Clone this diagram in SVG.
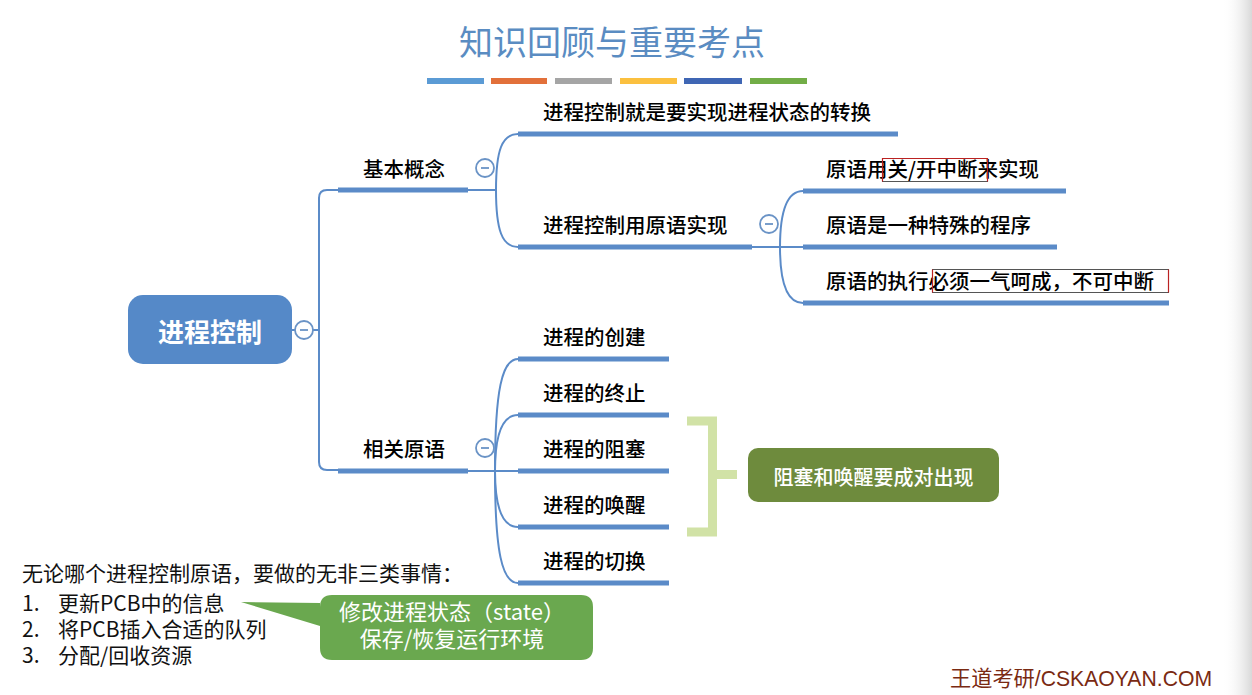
<svg xmlns="http://www.w3.org/2000/svg" width="1252" height="695" viewBox="0 0 1252 695">
<style>
.t{font-family:"Noto Sans CJK SC","Noto Sans",sans-serif;fill:#000;font-size:20.5px;font-weight:500}
.bar{stroke:#5b8bc8;stroke-width:5;fill:none}
.ln{stroke:#5b8bc8;stroke-width:2;fill:none}
.cc{fill:#fff;stroke:#6a93c6;stroke-width:1.8}
.cm{stroke:#6a93c6;stroke-width:1.8}
.bt{font-family:"Noto Sans CJK SC","Noto Sans",sans-serif;fill:#111;font-size:21px}
.ct{font-family:"Noto Sans CJK SC","Noto Sans",sans-serif;fill:#fff;font-size:22px}
</style>
<defs>
<linearGradient id="edge" x1="0" x2="1" y1="0" y2="0">
<stop offset="0" stop-color="#fff" stop-opacity="0"/>
<stop offset="1" stop-color="#d8d8d8"/>
</linearGradient>
</defs>
<rect width="1252" height="695" fill="#fff"/>
<rect x="1222" y="0" width="30" height="695" fill="url(#edge)"/>

<g id="title">
<text x="612" y="55" text-anchor="middle" font-family="Noto Sans CJK SC, sans-serif" font-size="34" fill="#5a8cc2">知识回顾与重要考点</text>
<rect x="427" y="78" width="57" height="6" fill="#5b9bd5"/>
<rect x="491" y="78" width="56" height="6" fill="#e2703a"/>
<rect x="555" y="78" width="57" height="6" fill="#a5a5a5"/>
<rect x="620" y="78" width="57" height="6" fill="#fbc03f"/>
<rect x="684" y="78" width="58" height="6" fill="#3f66b4"/>
<rect x="750" y="78" width="57" height="6" fill="#72ad47"/>
</g>

<g id="connectors">
<line class="ln" x1="292" y1="330" x2="319" y2="330"/>
<path class="ln" d="M338,190 H327 Q319,190 319,198 V462 Q319,470 327,470 H338"/>
<line class="ln" x1="468" y1="190" x2="496" y2="190"/>
<path class="ln" d="M496,190 C496,150 502,134 518,134"/>
<path class="ln" d="M496,190 C496,230 502,247 518,247"/>
<line class="ln" x1="752" y1="247" x2="780" y2="247"/>
<path class="ln" d="M780,247 C780,210 787,191 803,191"/>
<line class="ln" x1="780" y1="247" x2="803" y2="247"/>
<path class="ln" d="M780,247 C780,284 787,303 803,303"/>
<line class="ln" x1="468" y1="471" x2="518" y2="471"/>
<path class="ln" d="M495,471 C495,390 502,359 518,359"/>
<path class="ln" d="M495,471 C495,435 502,415 518,415"/>
<path class="ln" d="M495,471 C495,507 502,527 518,527"/>
<path class="ln" d="M495,471 C495,552 502,583 518,583"/>
</g>

<g id="root">
<rect x="128" y="295" width="164" height="69" rx="15" fill="#5589c8"/>
<text x="210" y="342" text-anchor="middle" font-family="Noto Sans CJK SC, sans-serif" font-size="26" font-weight="bold" fill="#fff">进程控制</text>
<circle class="cc" cx="304" cy="330" r="9"/>
<line class="cm" x1="300" y1="330" x2="308" y2="330"/>
</g>

<g id="n-basic">
<line class="bar" x1="338" y1="190" x2="468" y2="190"/>
<text class="t" x="363" y="177">基本概念</text>
<circle class="cc" cx="485" cy="168" r="9"/>
<line class="cm" x1="481" y1="168" x2="489" y2="168"/>
</g>

<g id="n-basic-1">
<line class="bar" x1="518" y1="134" x2="898" y2="134"/>
<text class="t" x="543" y="120">进程控制就是要实现进程状态的转换</text>
</g>

<g id="n-basic-2">
<line class="bar" x1="518" y1="247" x2="752" y2="247"/>
<text class="t" x="543" y="233">进程控制用原语实现</text>
<circle class="cc" cx="769" cy="224" r="9"/>
<line class="cm" x1="765" y1="224" x2="773" y2="224"/>
</g>

<g id="n-prim-1">
<line class="bar" x1="803" y1="191" x2="1066" y2="191"/>
<text class="t" x="826" y="177">原语用关/开中断来实现</text>
<rect x="882.5" y="158.5" width="105" height="23" fill="none" stroke="#555" stroke-width="1"/>
<path d="M882.5,181.5 V158.5 H987.5 V181.5" fill="none" stroke="#b22" stroke-width="1.2"/>
</g>

<g id="n-prim-2">
<line class="bar" x1="803" y1="247" x2="1057" y2="247"/>
<text class="t" x="826" y="233">原语是一种特殊的程序</text>
</g>

<g id="n-prim-3">
<line class="bar" x1="803" y1="303" x2="1169" y2="303"/>
<text class="t" x="826" y="289">原语的执行必须一气呵成，不可中断</text>
<rect x="932.5" y="269.5" width="236" height="23" fill="none" stroke="#555" stroke-width="1"/>
<line x1="932.5" y1="269.5" x2="932.5" y2="292.5" stroke="#b22" stroke-width="1.2"/>
<line x1="1168.5" y1="269.5" x2="1168.5" y2="292.5" stroke="#b22" stroke-width="1.2"/>
</g>

<g id="n-related">
<line class="bar" x1="338" y1="471" x2="468" y2="471"/>
<text class="t" x="363" y="457">相关原语</text>
<circle class="cc" cx="485" cy="448" r="9"/>
<line class="cm" x1="481" y1="448" x2="489" y2="448"/>
</g>

<g id="n-create">
<line class="bar" x1="518" y1="359" x2="669" y2="359"/>
<text class="t" x="543" y="345">进程的创建</text>
</g>
<g id="n-term">
<line class="bar" x1="518" y1="415" x2="669" y2="415"/>
<text class="t" x="543" y="401">进程的终止</text>
</g>
<g id="n-block">
<line class="bar" x1="518" y1="471" x2="669" y2="471"/>
<text class="t" x="543" y="457">进程的阻塞</text>
</g>
<g id="n-wake">
<line class="bar" x1="518" y1="527" x2="669" y2="527"/>
<text class="t" x="543" y="513">进程的唤醒</text>
</g>
<g id="n-switch">
<line class="bar" x1="518" y1="583" x2="669" y2="583"/>
<text class="t" x="543" y="569">进程的切换</text>
</g>

<g id="bracket">
<path d="M687,421 H712.5 V532 H687 M712.5,474.5 H737" fill="none" stroke="#d1e2a6" stroke-width="9"/>
</g>

<g id="n-pair">
<rect x="748" y="448" width="251" height="54" rx="10" fill="#6e8b3d"/>
<text x="873.5" y="485" text-anchor="middle" font-family="Noto Sans CJK SC, sans-serif" font-size="20" font-weight="500" fill="#fff">阻塞和唤醒要成对出现</text>
</g>

<g id="notes">
<text class="bt" x="22" y="581">无论哪个进程控制原语，要做的无非三类事情：</text>
<text class="bt" x="22" y="611">1.<tspan x="58">更新PCB中的信息</tspan></text>
<text class="bt" x="22" y="637">2.<tspan x="58">将PCB插入合适的队列</tspan></text>
<text class="bt" x="22" y="663">3.<tspan x="58">分配/回收资源</tspan></text>
</g>

<g id="callout">
<path d="M332,595 H581 Q593,595 593,607 V648 Q593,660 581,660 H332 Q320,660 320,648 V626 L241,602 L320,603 V607 Q320,595 332,595 Z" fill="#6aa84f"/>
<text class="ct" x="452" y="620" text-anchor="middle">修改进程状态（state）</text>
<text class="ct" x="452" y="647" text-anchor="middle">保存/恢复运行环境</text>
</g>

<g id="footer">
<text x="950" y="686" font-family="Liberation Sans, Noto Sans CJK SC, sans-serif" font-size="21.2" fill="#7a2a12">王道考研/CSKAOYAN.COM</text>
</g>
</svg>
